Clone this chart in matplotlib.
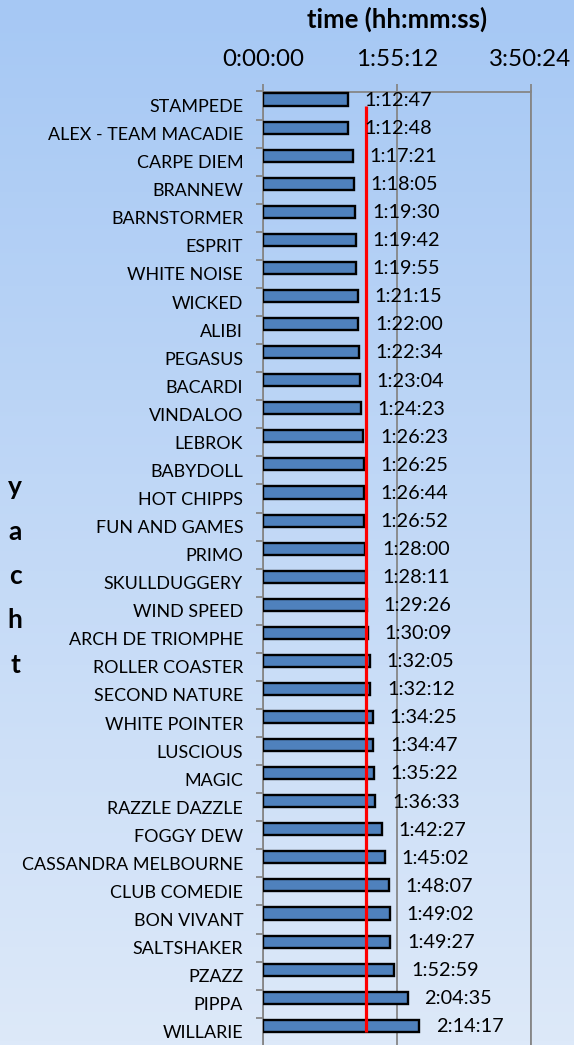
import numpy as np
import matplotlib
matplotlib.use("Agg")
import matplotlib.pyplot as plt
from matplotlib.colors import LinearSegmentedColormap

plt.rcParams['font.family'] = ['Lato', 'DejaVu Sans']

yachts = ["STAMPEDE", "ALEX - TEAM MACADIE", "CARPE DIEM", "BRANNEW", "BARNSTORMER",
          "ESPRIT", "WHITE NOISE", "WICKED", "ALIBI", "PEGASUS", "BACARDI", "VINDALOO",
          "LEBROK", "BABYDOLL", "HOT CHIPPS", "FUN AND GAMES", "PRIMO", "SKULLDUGGERY",
          "WIND SPEED", "ARCH DE TRIOMPHE", "ROLLER COASTER", "SECOND NATURE",
          "WHITE POINTER", "LUSCIOUS", "MAGIC", "RAZZLE DAZZLE", "FOGGY DEW",
          "CASSANDRA MELBOURNE", "CLUB COMEDIE", "BON VIVANT", "SALTSHAKER", "PZAZZ",
          "PIPPA", "WILLARIE"]
times = ["1:12:47", "1:12:48", "1:17:21", "1:18:05", "1:19:30", "1:19:42", "1:19:55",
         "1:21:15", "1:22:00", "1:22:34", "1:23:04", "1:24:23", "1:26:23", "1:26:25",
         "1:26:44", "1:26:52", "1:28:00", "1:28:11", "1:29:26", "1:30:09", "1:32:05",
         "1:32:12", "1:34:25", "1:34:47", "1:35:22", "1:36:33", "1:42:27", "1:45:02",
         "1:48:07", "1:49:02", "1:49:27", "1:52:59", "2:04:35", "2:14:17"]
reference_time = "1:28:30"
x_ticks = ["0:00:00", "1:55:12", "3:50:24"]


def to_sec(s):
    h, m, sec = (int(p) for p in s.split(":"))
    return h * 3600 + m * 60 + sec


def fmt(v):
    v = int(round(v))
    return f"{v // 3600}:{(v % 3600) // 60:02d}:{v % 60:02d}"


vals = np.array([to_sec(t) for t in times])
ref = to_sec(reference_time)
ticks = [to_sec(t) for t in x_ticks]

W, H = 574, 1045
fig = plt.figure(figsize=(W / 100, H / 100), dpi=100)

# background gradient
bg = fig.add_axes([0, 0, 1, 1], zorder=0)
cmap = LinearSegmentedColormap.from_list("bg", ["#A6C8F4", "#DDE9F9"])
bg.imshow(np.linspace(0, 1, 256).reshape(-1, 1), aspect="auto", cmap=cmap,
          extent=[0, 1, 0, 1], origin="upper")
bg.axis("off")

left_px, right_px, top_px, bottom_px = 263.3, 530.5, 91.5, 1045.8
ax = fig.add_axes([left_px / W, 1 - bottom_px / H, (right_px - left_px) / W,
                   (bottom_px - top_px) / H], zorder=1)
ax.patch.set_alpha(0)

n = len(yachts)
y = np.arange(n)
bar_off = -0.214
ax.barh(y + bar_off, vals, height=0.43, color="#4F81BD", edgecolor="black",
        linewidth=1.7, zorder=3)

for yi, v in zip(y, vals):
    ax.annotate(fmt(v), (v, yi + bar_off + 0.03), xytext=(12, 0),
                textcoords="offset points", ha="left", va="center",
                fontsize=14.3, color="black", zorder=5)

ax.plot([ref, ref], [0, n - 1], color="#FF0000", lw=2.3,
        solid_capstyle="butt", zorder=4)

ax.set_xlim(ticks[0], ticks[-1])
ax.set_ylim(n - 0.5, -0.5)

grey = "#868686"
ax.xaxis.tick_top()
ax.set_xticks(ticks)
ax.set_xticklabels(x_ticks)
ax.tick_params(axis="x", which="major", length=5.8, width=1.3, color=grey,
               labelsize=17.4, pad=9.5, top=True, bottom=False)
ax.grid(axis="x", color=grey, lw=1.3, zorder=1)

ax.set_yticks(y)
ax.set_yticklabels(yachts)
ax.set_yticks(np.arange(-0.5, n, 1.0), minor=True)
ax.tick_params(axis="y", which="major", length=0, labelsize=12.9, pad=14.5)
ax.tick_params(axis="y", which="minor", length=5.2, width=1.3, color=grey)

for s in ["bottom"]:
    ax.spines[s].set_visible(False)
for s in ["top", "left", "right"]:
    ax.spines[s].set_color(grey)
    ax.spines[s].set_linewidth(1.3)

fig.text(397 / W, 1 - 19 / H, "time (hh:mm:ss)", ha="center", va="center",
         fontsize=18.5, fontweight="bold")
fig.text(15 / W, 1 - 576 / H, "y\na\nc\nh\nt", ha="center", va="center",
         fontsize=19, fontweight="bold", linespacing=2.02)

fig.savefig("out.png", dpi=100)
